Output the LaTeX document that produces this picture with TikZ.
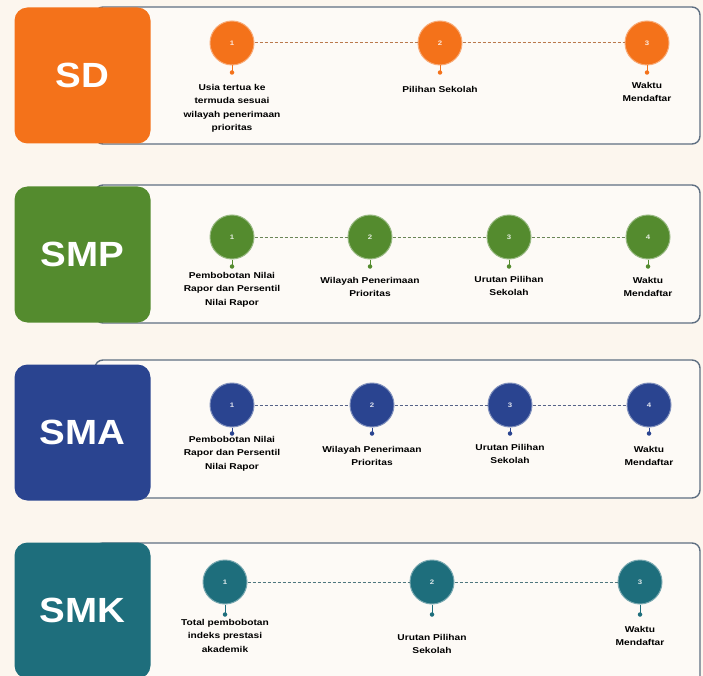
\documentclass[tikz,border=0pt]{standalone}
\usepackage{fontspec}
\setmainfont{Liberation Sans}
\newfontfamily\wfont[FakeStretch=1.2]{Liberation Sans}
\newfontfamily\bigfont[FakeStretch=1.1]{Liberation Sans}
\definecolor{bgc}{HTML}{FCF6EE}
\definecolor{cOr}{HTML}{F4721A}
\definecolor{cGr}{HTML}{548B2E}
\definecolor{cNv}{HTML}{2A4490}
\definecolor{cTl}{HTML}{1E6E7C}
\definecolor{cardfill}{HTML}{FDFAF6}
\definecolor{cardline}{HTML}{5F6F82}
\begin{document}
\begin{tikzpicture}[x=1pt,y=-1pt,
  sq/.style={rounded corners=13pt, fill=#1, minimum width=136pt, minimum height=136pt, inner sep=0pt, text=white, font={\bigfont\bfseries\fontsize{35}{35}\selectfont}},
  card/.style={draw=cardline, fill=cardfill, line width=1.4pt, rounded corners=8pt},
  stepdot/.style={circle, fill=#1, draw=#1!60!white, line width=1pt, minimum size=44pt, inner sep=0pt, text=#1!15!white, font={\wfont\bfseries\fontsize{6.5}{6.5}\selectfont}},
  lbl/.style={align=center, anchor=north, inner sep=0pt, text=black, font={\wfont\bfseries\fontsize{8.5}{13.5}\selectfont}},
  dline/.style={draw=#1!50!gray, dash pattern=on 3pt off 2pt, line width=1pt},
  pinline/.style={draw=#1, line width=0.9pt},
  pindot/.style={circle, fill=#1, inner sep=0pt, minimum size=4.5pt}]
\useasboundingbox (0,0) rectangle (703,676);
\clip (0,0) rectangle (703,676);
\fill[bgc] (0,0) rectangle (703,676);

% ---------- SD ----------
\path[card] (95,7) rectangle (700,144);
\node[sq=cOr] (sdsq) at (82.5,75.5) {SD};
\node[stepdot=cOr] (sd1) at (232,43) {1};
\node[stepdot=cOr] (sd2) at (440,43) {2};
\node[stepdot=cOr] (sd3) at (647,43) {3};
\draw[dline=cOr] (sd1) -- (sd2);
\draw[dline=cOr] (sd2) -- (sd3);
\foreach \n in {sd1,sd2,sd3}{
  \draw[pinline=cOr] (\n.south) -- ++(0,7) node[pindot=cOr] (\n p) {};
}
\node[lbl] (sdl1) at (232,84) {Usia tertua ke\\termuda sesuai\\wilayah penerimaan\\prioritas};
\node[lbl] (sdl2) at (440,86) {Pilihan Sekolah};
\node[lbl] (sdl3) at (647,82) {Waktu\\Mendaftar};

% ---------- SMP ----------
\path[card] (95,185) rectangle (700,323);
\node[sq=cGr] (smpsq) at (82.5,254.5) {SMP};
\node[stepdot=cGr] (smp1) at (232,237) {1};
\node[stepdot=cGr] (smp2) at (370,237) {2};
\node[stepdot=cGr] (smp3) at (509,237) {3};
\node[stepdot=cGr] (smp4) at (648,237) {4};
\draw[dline=cGr] (smp1) -- (smp2);
\draw[dline=cGr] (smp2) -- (smp3);
\draw[dline=cGr] (smp3) -- (smp4);
\foreach \n in {smp1,smp2,smp3,smp4}{
  \draw[pinline=cGr] (\n.south) -- ++(0,7) node[pindot=cGr] (\n p) {};
}
\node[lbl] (smpl1) at (232,272) {Pembobotan Nilai\\Rapor dan Persentil\\Nilai Rapor};
\node[lbl] (smpl2) at (370,277) {Wilayah Penerimaan\\Prioritas};
\node[lbl] (smpl3) at (509,276) {Urutan Pilihan\\Sekolah};
\node[lbl] (smpl4) at (648,277) {Waktu\\Mendaftar};

% ---------- SMA ----------
\path[card] (95,360) rectangle (700,498);
\node[sq=cNv] (smasq) at (82.5,432.5) {SMA};
\node[stepdot=cNv] (sma1) at (232,405) {1};
\node[stepdot=cNv] (sma2) at (372,405) {2};
\node[stepdot=cNv] (sma3) at (510,405) {3};
\node[stepdot=cNv] (sma4) at (649,405) {4};
\draw[dline=cNv] (sma1) -- (sma2);
\draw[dline=cNv] (sma2) -- (sma3);
\draw[dline=cNv] (sma3) -- (sma4);
\foreach \n in {sma1,sma2,sma3,sma4}{
  \draw[pinline=cNv] (\n.south) -- ++(0,6) node[pindot=cNv] (\n p) {};
}
\node[lbl] (smal1) at (232,436) {Pembobotan Nilai\\Rapor dan Persentil\\Nilai Rapor};
\node[lbl] (smal2) at (372,446) {Wilayah Penerimaan\\Prioritas};
\node[lbl] (smal3) at (510,444) {Urutan Pilihan\\Sekolah};
\node[lbl] (smal4) at (649,446) {Waktu\\Mendaftar};

% ---------- SMK ----------
\path[card] (95,543) rectangle (700,700);
\node[sq=cTl] (smksq) at (82.5,610.5) {SMK};
\node[stepdot=cTl] (smk1) at (225,582) {1};
\node[stepdot=cTl] (smk2) at (432,582) {2};
\node[stepdot=cTl] (smk3) at (640,582) {3};
\draw[dline=cTl] (smk1) -- (smk2);
\draw[dline=cTl] (smk2) -- (smk3);
\foreach \n in {smk1,smk2,smk3}{
  \draw[pinline=cTl] (\n.south) -- ++(0,10) node[pindot=cTl] (\n p) {};
}
\node[lbl] (smkl1) at (225,619) {Total pembobotan\\indeks prestasi\\akademik};
\node[lbl] (smkl2) at (432,634) {Urutan Pilihan\\Sekolah};
\node[lbl] (smkl3) at (640,626) {Waktu\\Mendaftar};
\end{tikzpicture}
\end{document}
